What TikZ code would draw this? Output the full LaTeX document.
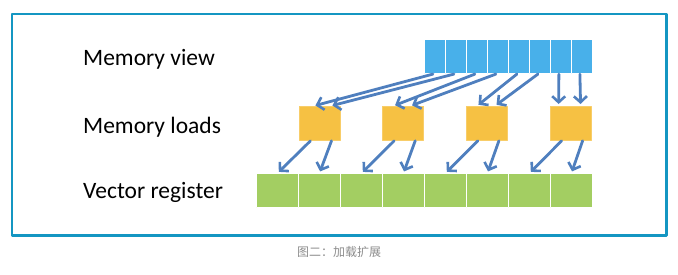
\documentclass[tikz,border=0pt]{standalone}
\usepackage{fontspec}
\setmainfont{Carlito}
\newfontfamily\cjk{Noto Sans CJK SC}
\usetikzlibrary{arrows.meta}
\definecolor{viewblue}{HTML}{48B0EA}
\definecolor{loadyellow}{HTML}{F6C143}
\definecolor{reggreen}{HTML}{A3CE62}
\definecolor{arrowblue}{HTML}{4F7FBE}
\definecolor{framecol}{HTML}{1496C2}
\tikzset{
  cell/.style={draw=white, line width=0.8pt, inner sep=0pt, anchor=north west, minimum height=34pt},
  viewcell/.style={cell, fill=viewblue, minimum width=21pt},
  loadbox/.style={cell, fill=loadyellow, draw=loadyellow!80!white, minimum width=41pt},
  regcell/.style={cell, fill=reggreen, minimum width=42pt},
  rowlabel/.style={anchor=base west, inner sep=0pt, font=\fontsize{23.5}{28}\selectfont},
  ldarrow/.style={draw=arrowblue, line width=2.8pt, -{Straight Barb[length=6pt, width=13pt, line width=2.6pt]}, shorten >=2pt}
}
\begin{document}
\begin{tikzpicture}[x=1pt, y=-1pt, line join=round, line cap=round]
  \useasboundingbox (0,0) rectangle (678,274);
  \draw[framecol, line width=2.5pt] (12,14) rectangle (666.7,235.3);
  % row labels
  \node[rowlabel] (lview) at (83,65.7) {Memory view};
  \node[rowlabel] (lloads) at (83,133.7) {Memory loads};
  \node[rowlabel] (lreg) at (83,198.3) {Vector register};
  % cells
  \foreach \i in {1,...,8} {
    \node[viewcell] (mv\i) at ({424+21*(\i-1)},39.3) {};
    \node[regcell] (vr\i) at ({256+42*(\i-1)},173.3) {};
  }
  \foreach \j in {1,...,4}
    \node[loadbox] (ml\j) at ({298.5+83.7*(\j-1)},106) {};
  % arrows
  \foreach \j/\p/\q in {1/15/32, 2/11/28, 3/11/29, 4/9/31} {
    \pgfmathtruncatemacro{\a}{2*\j-1}
    \pgfmathtruncatemacro{\b}{2*\j}
    \draw[ldarrow] ([xshift=-2pt]mv\a.south) -- ([xshift=\p pt]ml\j.north west);
    \draw[ldarrow] ([xshift=-2pt]mv\b.south) -- ([xshift=\q pt]ml\j.north west);
    \draw[ldarrow] ([xshift=12pt]ml\j.south west) -- (vr\a.north);
    \draw[ldarrow] ([xshift=33pt]ml\j.south west) -- (vr\b.north);
  }
  \node[text=black!45, font=\cjk\fontsize{12}{14}\selectfont] (caption) at (339,252) {图二：加载扩展};
\end{tikzpicture}
\end{document}
